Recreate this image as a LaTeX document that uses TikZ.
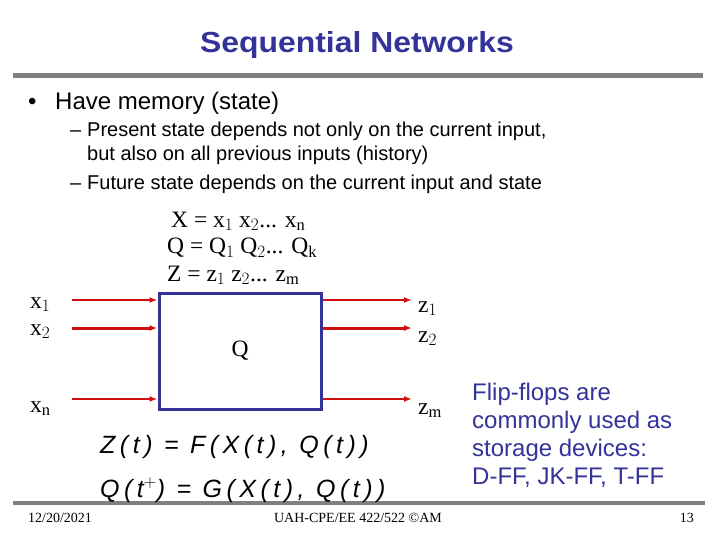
\documentclass[tikz,border=0pt]{standalone}
\usepackage{fontspec}
\setmainfont{Liberation Serif}
\newfontfamily\arialfont{Liberation Sans}
\newfontfamily\lawfont[LetterSpace=18]{Liberation Sans}
\usetikzlibrary{arrows.meta,positioning,calc}
\definecolor{Navy}{HTML}{333399}
\definecolor{Wire}{HTML}{D01010}
\definecolor{Bar}{HTML}{808080}
\begin{document}
\begin{tikzpicture}[
    x=1pt, y=-1pt,
    sans/.style={font=\arialfont, inner sep=0pt},
    item/.style={inner sep=0pt, anchor=base west, font=\arialfont\fontsize{20}{22}\selectfont},
    serif/.style={font=\fontsize{23.5}{26}\selectfont, inner sep=0pt},
    foot/.style={font=\fontsize{14}{16}\selectfont, inner sep=0pt},
    wire/.style={-{Latex[length=8pt, width=6pt]}, draw=Wire, line width=2pt},
    fat/.style={wire, line width=3pt},
    law/.style={inner sep=0pt, anchor=base west, font=\lawfont\itshape\fontsize{25}{28}\selectfont}
  ]
    \useasboundingbox[fill=white] (0,0) rectangle (720,540);
    % title and rules
    \node[sans, text=Navy, font=\arialfont\bfseries\fontsize{29}{32}\selectfont, anchor=base] (title) at (357,53) {\scalebox{1.1}[1]{Sequential Networks}};
    \fill[Bar] (13,73) rectangle (703,78);
    \fill[Bar] (13,501) rectangle (705,505);
    % bullets
    \node[item, font=\arialfont\fontsize{24}{26}\selectfont] (dot) at (28,110) {\textbullet};
    \node[item, font=\arialfont\fontsize{24}{26}\selectfont] (b1) at (55,110) {Have memory (state)};
    \node[item] (d2) at (70,137) {\textendash};
    \node[item] (b2) at (87,137) {Present state depends not only on the current input,};
    \node[item] (b2b) at (87,161) {but also on all previous inputs (history)};
    \node[item] (d3) at (70,190) {\textendash};
    \node[item] (b3) at (87,190) {Future state depends on the current input and state};
    % definitions
    \node[serif, anchor=base west] (defx) at (171,227) {X = x$_1$ x$_2$... x$_\mathrm{n}$};
    \node[serif, anchor=base west] (defq) at (167,254) {Q = Q$_1$ Q$_2$... Q$_\mathrm{k}$};
    \node[serif, anchor=base west] (defz) at (167,281) {Z = z$_1$ z$_2$... z$_\mathrm{m}$};
    % the network
    \node[draw=Navy, line width=3pt, minimum width=162pt, minimum height=116pt, inner sep=0pt] (seq) at (240,351) {};
    \node[serif] (qlab) at (240,351) {Q};
    \coordinate (in1) at (72,300);
    \coordinate (in2) at (72,328);
    \coordinate (inn) at (72,399);
    \coordinate (out1) at (412,300);
    \coordinate (out2) at (412,328);
    \coordinate (outm) at (412,399);
    \draw[wire] (in1) -- (in1 -| seq.west);
    \draw[fat] (in2) -- (in2 -| seq.west);
    \draw[wire] (inn) -- (inn -| seq.west);
    \draw[wire] (out1 -| seq.east) -- (out1);
    \draw[fat] (out2 -| seq.east) -- (out2);
    \draw[wire] (outm -| seq.east) -- (outm);
    \node[serif, anchor=base west] (lx1) at (30,308) {x$_1$};
    \node[serif, anchor=base west] (lx2) at (30,335) {x$_2$};
    \node[serif, anchor=base west] (lxn) at (30,412) {x$_\mathrm{n}$};
    \node[serif, anchor=base west] (lz1) at (418,312) {z$_1$};
    \node[serif, anchor=base west] (lz2) at (418,342) {z$_2$};
    \node[serif, anchor=base west] (lzm) at (418,414) {z$_\mathrm{m}$};
    % equations
    \node[law] (eqz) at (100,453) {Z(t) = F(X(t), Q(t))};
    \node[law] (eqq) at (100,497) {Q(t$^{+}$) = G(X(t), Q(t))};
    % note
    \node[sans, text=Navy, font=\arialfont\fontsize{24}{28}\selectfont, anchor=base west, align=left] (note) at (472,484)
      {Flip-flops are\\commonly used as\\storage devices:\\D-FF, JK-FF, T-FF};
    % footer
    \node[foot, anchor=base west] (date) at (28,522) {12/20/2021};
    \node[foot, anchor=base] (course) at (358,522) {UAH-CPE/EE 422/522 \textcopyright AM};
    \node[foot, anchor=base east] (page) at (694,522) {13};
\end{tikzpicture}
\end{document}
